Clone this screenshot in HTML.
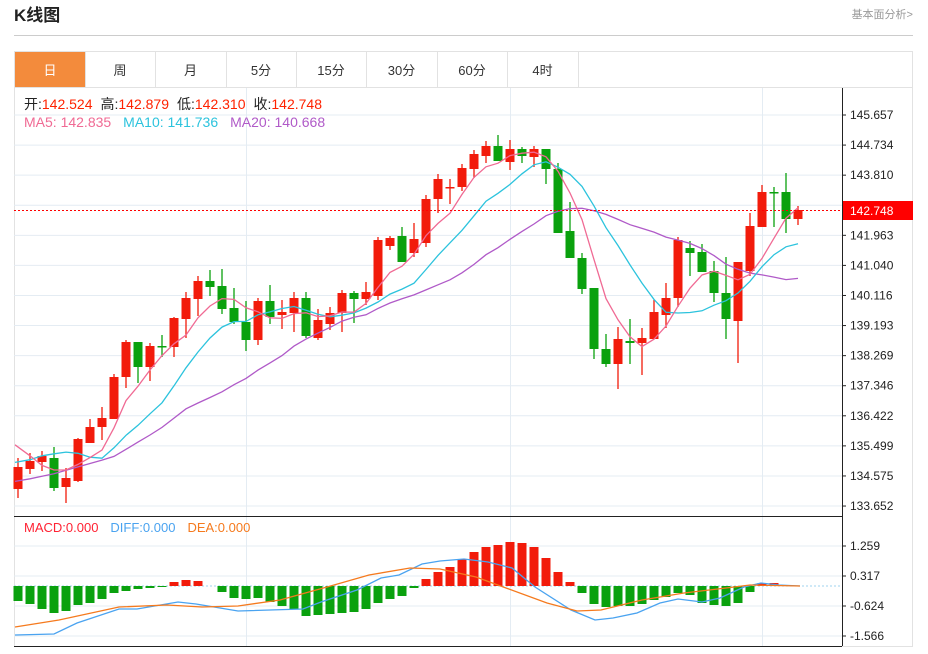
<!DOCTYPE html>
<html><head><meta charset="utf-8"><style>
body{margin:0;background:#fff;font-family:"Liberation Sans","Noto Sans CJK SC",sans-serif;}
svg text{font-family:"Liberation Sans","Noto Sans CJK SC",sans-serif;}
</style></head><body>
<svg id="s" width="928" height="649" xmlns="http://www.w3.org/2000/svg">
<text x="14" y="21" font-size="17" font-weight="bold" fill="#222">K线图</text>
<text x="913" y="18" font-size="11" fill="#999" text-anchor="end">基本面分析&gt;</text>
<line x1="14" y1="35.5" x2="913" y2="35.5" stroke="#ccc"/>
<rect x="14.5" y="51.5" width="898" height="595" fill="none" stroke="#e2e2e2"/>
<line x1="14" y1="87.5" x2="913" y2="87.5" stroke="#e2e2e2"/>
<rect x="15" y="52" width="70" height="35" fill="#f38b3c"/>
<g id="tabs" font-size="13" text-anchor="middle" fill="#333"></g>
<g id="grid"></g>
<g id="cand"></g>
<g id="lines"></g>
<g id="macd"></g>
<line x1="14" y1="516.5" x2="842" y2="516.5" stroke="#222"/>
<line x1="14" y1="646.5" x2="842" y2="646.5" stroke="#222"/>
<line x1="842.5" y1="88" x2="842.5" y2="646" stroke="#222"/>
<line x1="14" y1="210.5" x2="842" y2="210.5" stroke="#f00" stroke-dasharray="2,2"/>
<rect x="843" y="201" width="70" height="19" fill="#f00"/>
<text x="850" y="215" font-size="12" fill="#fff">142.748</text>
<text x="24" y="109" font-size="14"><tspan fill="#222">开:</tspan><tspan fill="#f20">142.524</tspan><tspan fill="#222" dx="8">高:</tspan><tspan fill="#f20">142.879</tspan><tspan fill="#222" dx="8">低:</tspan><tspan fill="#f20">142.310</tspan><tspan fill="#222" dx="8">收:</tspan><tspan fill="#f20">142.748</tspan></text>
<text x="24" y="127" font-size="14"><tspan fill="#f06a94">MA5: 142.835</tspan><tspan fill="#2cc3dd" dx="12">MA10: 141.736</tspan><tspan fill="#b05ac8" dx="12">MA20: 140.668</tspan></text>
<text x="24" y="532" font-size="13"><tspan fill="#f23">MACD:0.000</tspan><tspan fill="#4aa3f0" dx="12">DIFF:0.000</tspan><tspan fill="#f57a1e" dx="12">DEA:0.000</tspan></text>
</svg>
<script>
var NS="http://www.w3.org/2000/svg";
function el(p,t,a,txt){var e=document.createElementNS(NS,t);for(var k in a)e.setAttribute(k,a[k]);if(txt!=null)e.textContent=txt;document.getElementById(p).appendChild(e);return e;}
var tb=[15,85,155,226,296,366,437,507,578],tn=["日","周","月","5分","15分","30分","60分","4时"];
for(var i=0;i<8;i++){el("tabs","text",{x:(tb[i]+tb[i+1])/2,y:75,fill:i==0?"#fff":"#333"},tn[i]);el("tabs","line",{x1:tb[i+1]+.5,y1:52,x2:tb[i+1]+.5,y2:87,stroke:"#e2e2e2"});}
var lab=["145.657","144.734","143.810","142.887","141.963","141.040","140.116","139.193","138.269","137.346","136.422","135.499","134.575","133.652"];
for(var i=0;i<14;i++){var y=115+i*30.08;el("grid","line",{x1:14,y1:y,x2:842,y2:y,stroke:"#e4ecf3"});if(i!=3){el("grid","line",{x1:842,y1:y,x2:846,y2:y,stroke:"#222"});el("grid","text",{x:850,y:y+4,"font-size":12,fill:"#222"},lab[i]);}}
[246,510,762].forEach(function(x){el("grid","line",{x1:x+.5,y1:88,x2:x+.5,y2:646,stroke:"#e4ecf3"});});
var ml=[[546,"1.259"],[576,"0.317"],[606,"-0.624"],[636,"-1.566"]];
ml.forEach(function(m){el("grid","line",{x1:14,y1:m[0],x2:842,y2:m[0],stroke:"#e4ecf3"});el("grid","line",{x1:842,y1:m[0],x2:846,y2:m[0],stroke:"#222"});el("grid","text",{x:850,y:m[0]+4,"font-size":12,fill:"#222"},m[1]);});
el("grid","line",{x1:14,y1:586,x2:842,y2:586,stroke:"#9fd3ef","stroke-dasharray":"2,2"});
var C=[[1,467,489,458,498],[1,461,469,453,474],[1,456,462,451,471],[0,458,488,447,491],[1,478,487,468,503],[1,439,481,438,482],[1,427,443,419,443],[1,418,427,407,440],[1,377,419,374,419],[1,342,377,340,388],[0,342,367,342,383],[1,346,367,343,381],[0,346,346,335,357],[1,318,347,317,357],[1,298,319,292,338],[1,281,299,276,316],[0,281,287,270,296],[0,286,309,269,314],[0,308,322,288,324],[0,322,340,301,351],[1,301,340,298,345],[0,301,317,285,324],[1,312,315,300,329],[1,298,313,292,332],[0,298,336,292,338],[1,320,338,309,340],[1,313,324,307,330],[1,293,313,290,332],[0,293,299,291,323],[1,292,299,282,305],[1,240,296,237,300],[1,238,246,236,250],[0,236,262,227,260],[1,239,253,223,257],[1,199,243,195,247],[1,179,199,174,213],[1,187,187,179,204],[1,168,187,164,191],[1,154,169,150,178],[1,146,156,141,163],[0,146,161,135,161],[1,149,162,140,170],[0,149,156,147,163],[1,149,157,146,167],[0,149,169,149,184],[0,169,233,163,233],[0,231,258,202,258],[0,258,289,253,294],[0,288,349,288,359],[0,349,364,334,367],[1,339,364,327,389],[0,341,343,319,364],[1,338,343,328,375],[1,312,339,300,339],[1,298,315,283,328],[1,240,298,237,307],[0,248,253,241,276],[0,252,272,244,272],[0,271,293,261,302],[0,293,319,257,339],[1,262,321,262,363],[1,226,271,213,276],[1,192,227,185,227],[0,192,192,187,227],[0,192,219,173,233],[1,210,219,206,225]];
var cl=[];
C.forEach(function(c,i){var x=18+12*i,col=c[0]?"#f21b0b":"#0aa10e";cl.push(c[0]?c[1]:c[2]);
el("cand","line",{x1:x,y1:c[3],x2:x,y2:c[4],stroke:col,"stroke-width":1.3});
el("cand","rect",{x:x-4.5,y:c[1],width:9,height:Math.max(1.5,c[2]-c[1]),fill:col});});
function interp(pts,x){for(var k=0;k<pts.length-1;k++){if(x<=pts[k+1][0]){var a=pts[k],b=pts[k+1];return a[1]+(b[1]-a[1])*(x-a[0])/(b[0]-a[0]);}}return pts[pts.length-1][1];}
function ma(n,early){var pts=[];for(var i=0;i<cl.length;i++){var x=18+12*i,y;if(i<n-1)y=interp(early,x);else{var s=0;for(var j=i-n+1;j<=i;j++)s+=cl[j];y=s/n;}pts.push([i==0?15:x,y]);}return pts;}
function pl(g,pts,col,w){el(g,"polyline",{points:pts.map(function(p){return p[0]+","+p[1].toFixed(1)}).join(" "),fill:"none",stroke:col,"stroke-width":w||1.3});}
pl("lines",ma(20,[[15,482],[53,474],[113,457],[160,429],[187,408],[220,393],[247,377]]),"#b05ac8");
pl("lines",ma(10,[[15,463],[29,460],[41,456],[53,454],[65,452],[77,453],[89,457],[101,459],[113,449],[125,435]]),"#2cc3dd");
pl("lines",ma(5,[[15,442],[29,455],[41,465],[53,470],[65,470]]),"#f06a94");
var H=[601,604,609,613,611,605,603,599,593,591,589,588,587,582,580,581,586,592,598,599,598,602,606,609,616,615,614,613,612,609,603,599,596,588,579,572,567,559,552,547,545,542,543,547,558,572,582,593,604,607,606,606,604,600,597,593,595,603,605,606,603,592,583,583,585,586];
H.forEach(function(y,i){var x=18+12*i;if(Math.abs(y-586)<0.5)return;el("macd","rect",{x:x-4.5,y:Math.min(y,586),width:9,height:Math.abs(y-586),fill:y<586?"#f21b0b":"#0aa10e"});});
pl("macd",[[15,635],[54,634],[77,623],[119,609],[137,609],[178,602],[196,604],[238,611],[303,609],[321,602],[357,590],[381,578],[399,575],[422,564],[440,561],[464,559],[488,562],[512,568],[535,587],[571,610],[595,620],[613,618],[637,613],[660,603],[678,599],[702,602],[720,598],[744,587],[761,583],[779,585],[800,586]],"#4aa3f0");
pl("macd",[[15,627],[59,620],[119,607],[167,605],[202,607],[238,606],[280,600],[327,587],[369,575],[410,568],[440,569],[476,577],[506,588],[547,603],[577,611],[601,610],[642,600],[684,593],[726,588],[750,585],[800,586]],"#f57a1e");
</script>
</body></html>
